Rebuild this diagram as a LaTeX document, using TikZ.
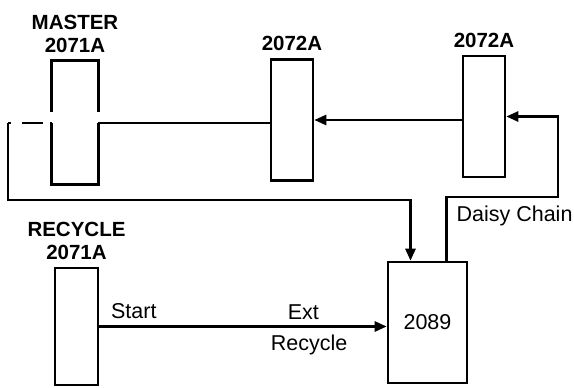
\documentclass[tikz,border=0pt]{standalone}
\usepackage{fontspec}
\setmainfont{Liberation Sans}
\usetikzlibrary{arrows.meta,positioning,calc}

\begin{document}
\begin{tikzpicture}[
  x=1pt,y=-1pt,
  line width=2.6pt,
  box/.style={draw,line width=2.6pt,minimum width=42pt,minimum height=121pt,inner sep=0pt},
  title/.style={font=\fontsize{20.5}{23}\selectfont\bfseries,align=center,inner sep=0pt},
  sig/.style={font=\fontsize{21.5}{22}\selectfont,inner sep=0pt},
  arrow/.style={-{Triangle[length=12pt,width=10pt]},line width=2.6pt}
]
  \useasboundingbox (0,0) rectangle (574,388);

  % chain of cards
  \node[box,draw=none,minimum width=44pt] (master) at (75,122.5) {};
  \node[box] (mid) at (292,120) {};
  \node[box] (right) at (484,116.5) {};
  \node[box,minimum width=79pt] (unit) at (427.5,322.5) {};
  \node[sig] at (unit) {2089};
  \node[box,minimum width=43pt,minimum height=117pt] (recycle) at (76.5,326.5) {};

  \node[title,above=7pt of master] (mtitle) {MASTER\\2071A};
  \node[title,above=6pt of mid] (midtitle) {2072A};
  \node[title,above=6pt of right] (righttitle) {2072A};
  \node[title,above=6pt of recycle] (rtitle) {RECYCLE\\2071A};

  \coordinate (ret) at (8,123);
  \coordinate (turn) at (8,200);
  \coordinate (tin) at ($(unit.north)+(-17,0)$);
  \coordinate (dc) at ($(unit.north east)+(-22,0)$);
  \coordinate (loop) at (558,197);

  % master card, open where the line passes
  \draw (master.west |- ret) -- (master.south west) -- (master.south east) -- (master.east |- ret);
  \draw ($(master.west |- ret)+(0,-11)$) -- (master.north west) -- (master.north east) -- ($(master.east |- ret)+(0,-11)$);

  \draw[arrow] (right.west |- mid.east) -- (mid.east);
  \draw[arrow] (dc) -- node[sig,right=9pt,pos=0.71] {Daisy Chain} (dc |- loop) -- (loop) |- (right.east);
  \draw (mid.west |- ret) -- (master.east |- ret);
  \draw[dash pattern=on 3pt off 11pt on 21pt off 7pt] (ret) -- (master.west |- ret);
  \draw[arrow] (ret) -- (turn) -| (tin);
  \draw[arrow] (recycle.east) -- node[sig,pos=0.12,above=6pt] {Start}
    node[sig,pos=0.71,above=6pt] {Ext}
    node[sig,pos=0.73,below=7pt] {Recycle} (recycle.east -| unit.west);
\end{tikzpicture}
\end{document}
